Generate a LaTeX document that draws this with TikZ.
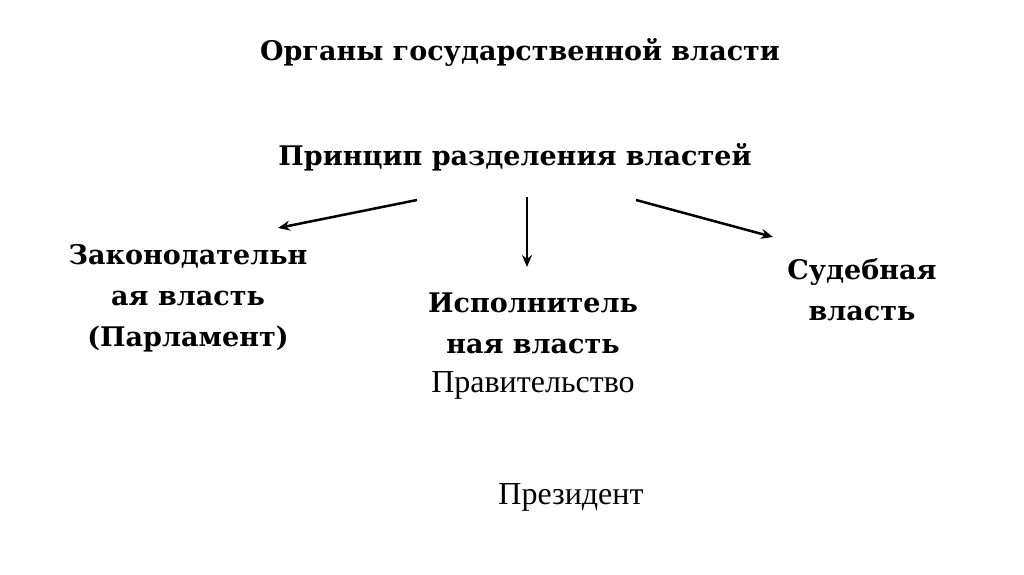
\documentclass[tikz,border=0pt]{standalone}
\usepackage{fontspec}
\usetikzlibrary{arrows.meta}
\setmainfont{DejaVu Serif}
\newfontfamily\regfont{Liberation Serif}
\begin{document}
\begin{tikzpicture}[x=1pt,y=-1pt,
  bt/.style={font=\bfseries\fontsize{27}{41}\selectfont, align=center, inner sep=0pt},
  rt/.style={font=\regfont\fontsize{32}{41}\selectfont, inner sep=0pt},
  arr/.style={line width=2.5pt,-{Stealth[length=12pt,width=10pt]}}]
\useasboundingbox (0,0) rectangle (1024,574);
\node[bt] (title) at (520,52) {Органы государственной власти};
\node[bt] (sub) at (515,157) {Принцип разделения властей};
\node[bt] (leg) at (188,298) {Законодательн\\ая власть\\(Парламент)};
\node[bt] (exe) at (533,323) {Исполнитель\\ная власть};
\node[rt] (gov) at (533,385) {Правительство};
\node[bt] (jud) at (862,290) {Судебная\\власть};
\node[rt] (pres) at (571,497) {Президент};
\coordinate (a1) at (417,200); \coordinate (b1) at (278,228);
\coordinate (a2) at (527,197); \coordinate (b2) at (527,267);
\coordinate (a3) at (636,200); \coordinate (b3) at (773,237);
\draw[arr] (a1) -- (b1);
\draw[arr] (a2) -- (b2);
\draw[arr] (a3) -- (b3);
\end{tikzpicture}
\end{document}
